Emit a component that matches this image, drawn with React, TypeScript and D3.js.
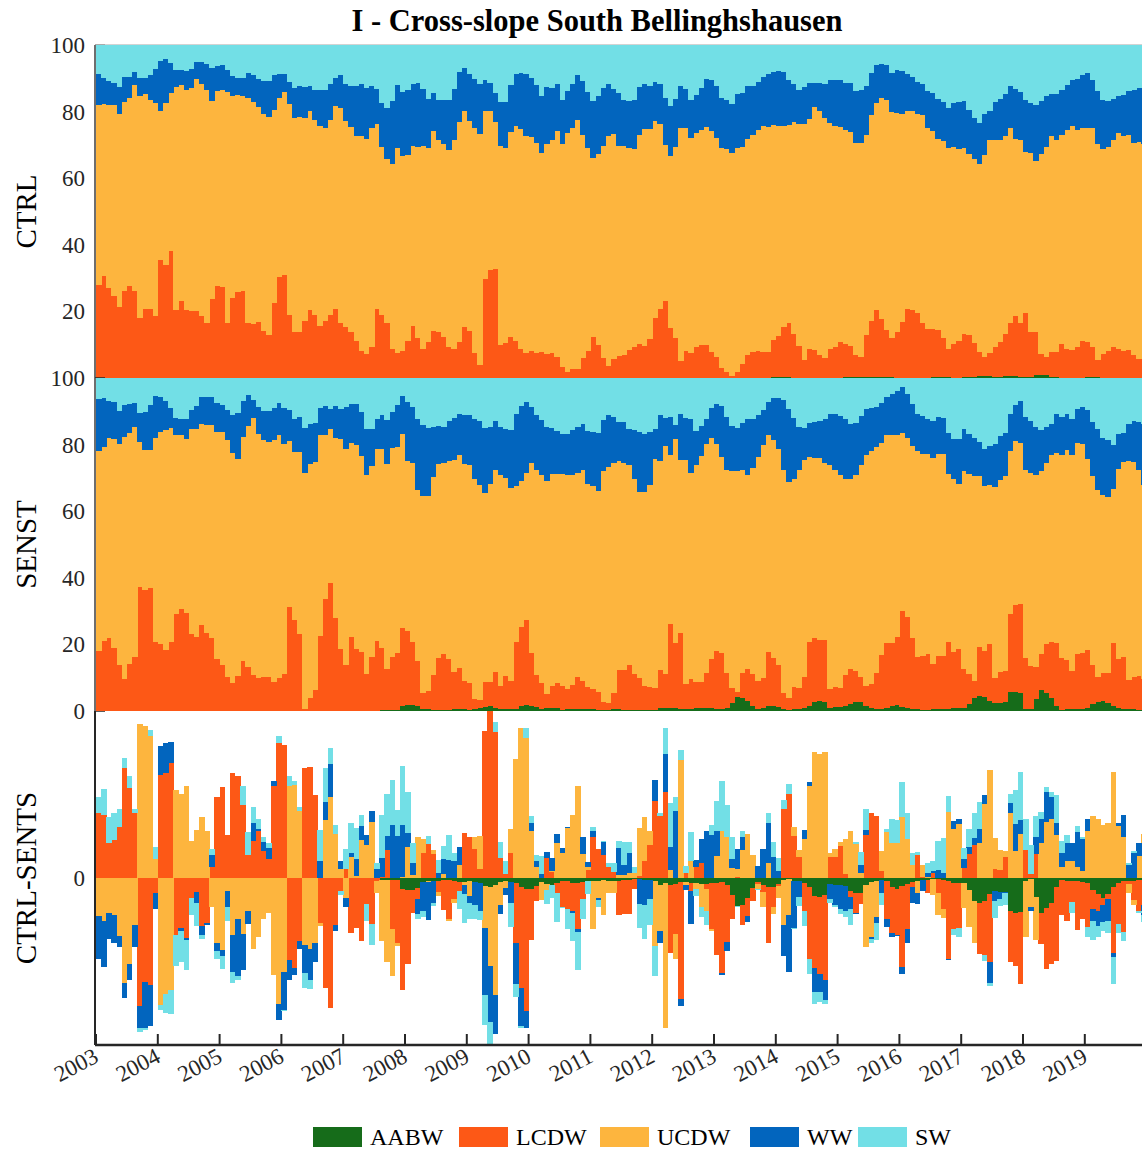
import React, { useEffect, useRef } from "react";
import * as d3 from "d3";

// Water masses, bottom to top of each stack
const waterMasses = ["AABW", "LCDW", "UCDW", "WW", "SW"];
const massColors = ["#166c1a", "#fd5816", "#fdb53e", "#0265be", "#72dfe6"];
const yearTicks = [2003, 2004, 2005, 2006, 2007, 2008, 2009, 2010, 2011, 2012, 2013, 2014, 2015, 2016, 2017, 2018, 2019];
const startYear = 2003;
const endYear = 2020;
const pctTicksTop = [100, 80, 60, 40, 20];
const pctTicksMid = [100, 80, 60, 40, 20, 0];
const diffTicks = [0];
const panelLabels = ["CTRL", "SENST", "CTRL-SENTS"];

// Monthly values (Jan 2003 - Dec 2019), % of cross-slope section.
// "Top" arrays are the cumulative percentage at the top of that layer.
const ctrlAabw = [
  0,0,0,0,0,0,0,0,0,0, 0,0,0,0,0,0,0,0,0,0, 0,0,0,0,0,0,0,0,0,0, 0,0,0,0,0,0,0,0,0,0,
  0,0,0,0,0,0,0,0,0,0, 0,0,0,0,0,0,0,0,0,0, 0,0,0,0,0,0,0,0,0,0, 0,0,0,0,0,0,0,0,0,0,
  0,0,0,0,0,0,0,0,0,0, 0,0,0,0,0,0,0,0,0,0, 0,0,0,0,0,0,0,0,0,0, 0,0,0,0,0,0,0,0,0,0,
  0,0,0,0,0,0,0,0,0,0,
  0.1, 0.2, 0.3, 0.3, 0.2, 0.1,
  0.1, 0.1, 0.1, 0.1, 0.1, 0.1, 0.1, 0.1, 0.1, 0.2,
  0.3, 0.4, 0.4, 0.3, 0.2,
  0.3, 0.3, 0.3, 0.2, 0.1, 0.1,
  0.1, 0.1, 0.1, 0.1, 0.1,
  0.3, 0.4, 0.3, 0.2,
  0.1, 0.1, 0.2, 0.2, 0.3,
  0.6, 0.7, 0.6, 0.4,
  0.3,
  0.5, 0.6, 0.5, 0.3,
  0.2, 0.3,
  0.8, 1.0, 0.8,
  0.3, 0.2, 0.1, 0.1, 0.1, 0.1, 0.1, 0.2, 0.2, 0.2, 0.1, 0.1, 0.1, 0.1, 0.1, 0.1, 0.1, 0.1, 0.1,
];
const ctrlLcdwTop = [
  27.9, 30.6, 27, 24.5, 21.4, 26, 27.6, 26, 18, 20.7, 20.8, 18.6, 35.4, 34, 38, 20.4, 23, 20.3, 20, 20,
  18.6, 16.6, 23.6, 27.7, 27.4, 16.6, 24, 25.8, 26, 16.6, 16.3, 16.8, 14.2, 13, 22.4, 30.2, 31, 19, 13.8, 13.7,
  17, 20.4, 18.8, 15.7, 17, 18.8, 20.7, 16.6, 15.2, 13.8, 11.1,
  8.2, 7.2, 9.4, 20.6, 18.9, 16.4, 8.6, 7.6, 8.1, 11.2, 15.6, 11.9, 8.6, 10.7, 14, 13.9, 12.2, 9.4, 8.7, 10.8,
  15.2, 14.1, 7.4, 3.9, 29.6, 32.4, 32.6, 10, 10.6, 12.2, 11.1, 8.6, 7.4, 8, 7.4, 7.7, 7.1, 7.4, 6.2, 3.2,
  1.9, 2.8, 2.6, 5.9, 8, 12.2, 9.8, 5.9, 3.7, 5.7, 6.7,
  6.9, 8.4, 9.4, 10.1, 9.7, 11.7, 17.9, 20.6, 23.2, 14.9, 12.1, 5.2, 8.1, 7.6, 9.4, 9.9, 9.9, 7.9, 6.4, 3.1,
  1.7, 0.7, 1.7, 4.2, 6.9, 7.7, 8.1, 7.9, 7.9, 11.4, 12.6, 15.4, 16.4, 13.2, 9.7, 5.4, 8.6, 8.4, 6.9, 6.1,
  8.7, 9.4, 10.7, 10.2, 9.6, 6.8, 6.4, 12.9, 17.2, 20.4,
  17.6, 14.4, 12.1, 13.7, 16.7, 20.7, 20.4, 19.4, 16.4, 14.7, 14.6, 14.4, 11.9, 8.7, 10.1, 11.1, 13.2, 12.9, 10.4, 7.7,
  6.4, 7.4, 9.2, 10.9, 13.2, 16.4, 18.6, 16.4, 19.6, 13.9, 13.9, 7.1, 6.4, 7.9, 7.9, 10.2, 8.7, 8.4, 9.2, 11.2,
  10.8, 9.2, 5.4, 7.2, 8.1, 9.2, 8.6, 8.2, 8.4, 6.8, 5.6, 5.6,
];
const ctrlUcdwTop = [
  82.1, 82.4, 82, 81.9, 79.2, 83, 84.2, 88, 84.8, 85.4, 83.6, 82.6, 80.2, 82.6, 85.6, 87.3, 87.9, 86.6, 87.1, 89.7,
  88.2, 86.4, 83.2, 86.2, 86.6, 85.9, 84.7, 84.9, 84.8, 84.1, 82.8, 81.4, 79.2, 78.4, 80.6, 84.1, 85.9, 82.4, 78.2, 78.4,
  78, 80.2, 77.4, 75.6, 75.2, 77.4, 81.6, 81.2, 77.2, 75.4, 72.6,
  72.8, 71.8, 75.1, 76.4, 69.4, 65.9, 64.4, 69.1, 66.6, 66.9, 69.8, 69.4, 69.8, 69.1, 74.1, 71.6, 70.4, 68.6, 71.6, 76.8,
  80.1, 77.3, 75.1, 73.3, 80.1, 80.1, 76.8, 69.7, 69.2, 73.9, 75.6, 74.9, 72.6, 72.4, 70.6, 67.7, 70.4, 71.4, 74.2, 70.4,
  73.7, 75.2, 77.6, 72.9, 69.2, 66, 67.4, 69.8, 72.7, 73.3, 69.8,
  69.6, 69.2, 68.9, 73.1, 74.7, 74.8, 77.1, 76.4, 70.1, 66.8, 69.4, 75.1, 75.2, 72.1, 73.7, 74.4, 75.4, 74.2, 72, 69.2,
  68.8, 67.5, 69.2, 69.4, 71.7, 73.1, 74.6, 75.6, 75.3, 75.9, 75.8, 75.7, 75.9, 76.9, 76.3, 76.2, 77.9, 81.4, 80.2, 78.1,
  76.6, 75.8, 75.3, 74.4, 73.9, 70.7, 70.6, 73.1, 78.9, 82.7,
  84.2, 83.6, 79.9, 79.7, 79.4, 80.2, 80.1, 79.2, 78.9, 75.2, 74.2, 71.7, 71.1, 69.1, 69.4, 68.9, 69.1, 67.4, 65.7, 64.4,
  67.1, 71.4, 71.4, 71.4, 72.6, 75.2, 71.9, 71.4, 67.9, 67.7, 65.1, 67.4, 69.4, 72.7, 71.6, 72.9, 74.4, 75.8, 74.4, 75.2,
  75.2, 75.2, 70.4, 68.7, 69.4, 71.4, 73.7, 72.8, 72.9, 70.7, 70.9, 70.4,
];
const ctrlWwTop = [
  91.3, 90.2, 89.1, 88.7, 87.4, 90.4, 90.4, 92, 90.1, 90.2, 90.9, 92.7, 95.1, 95.8, 94.7, 92.5, 92.5, 92.3, 92.9, 94.9,
  94.9, 94.2, 93.2, 93.8, 93.9, 92.6, 90.6, 90.2, 90.1, 91.6, 90.9, 89.7, 89.3, 89.3, 91.1, 91.4, 91.2, 88.9, 87.2, 87.6,
  87.3, 87.6, 86.4, 86.4, 86.4, 88.4, 90.2, 91.1, 88.3, 87.7, 87.7,
  88.2, 87.2, 87.7, 86.7, 82.6, 81.2, 83.1, 87.9, 85.9, 86.6, 88.4, 88.6, 86.9, 83.9, 85.7, 83.6, 83.4, 83.4, 86.9, 91.9,
  93.2, 91.4, 89.9, 88.3, 89.6, 88.7, 85.6, 82.9, 82.9, 87.9, 91.3, 91.7, 91.3, 90.1, 87.9, 84.6, 87.4, 87.1, 88.3, 83.4,
  86.2, 88.4, 90.9, 89.2, 85.9, 83.2, 84.7, 87.1, 88.3, 86.9, 85.7,
  83.4, 83.1, 83.4, 87.4, 88.4, 87.7, 89, 88.4, 84.2, 81.8, 83.7, 87.8, 86.9, 83.4, 85.1, 87.1, 89.9, 89.6, 87.7, 84.2,
  83.4, 82.4, 85.2, 85.7, 87.6, 87.7, 88.9, 90.4, 91.4, 91.9, 92.1, 92, 89.4, 88.2, 86.6, 87.4, 88.6, 88.6, 88.6, 88.4,
  89.6, 89.6, 89.4, 88.7, 88.6, 86.2, 86.6, 87.7, 91.6, 93.9,
  94.4, 93.9, 91.7, 92.6, 92.1, 91.4, 90.4, 88.9, 88.4, 86.2, 85.7, 83.9, 82.9, 81.1, 82.6, 82.9, 83.1, 80.6, 78.2, 76.7,
  79.4, 80.1, 82.9, 83.7, 85.4, 87.7, 86.7, 85.9, 83.6, 82.7, 82.1, 83.2, 84.6, 85.4, 85.2, 86.4, 87.9, 89.4, 89.9, 91.1,
  91.7, 89.6, 86.2, 83.4, 83.2, 83.9, 84.7, 84.9, 86.1, 86.6, 87.2, 87.4,
];

const senstAabw = [
  0,0,0,0,0,0,0,0,0,0, 0,0,0,0,0,0,0,0,0,0, 0,0,0,0,0,0,0,0,0,0, 0,0,0,0,0,0,0,0,0,0,
  0,0,0,0,0,0,0,0,0,0, 0,0,0,0,0,
  0.3, 0.3, 0.3, 0.3,
  1.6, 1.8, 1.8, 1.5,
  0.6, 0.5, 0.4, 0.4, 0.3, 0.3, 0.5, 0.6, 0.6, 0.4, 0.6, 0.8,
  1.2, 1.4, 1.0,
  0.6, 0.5, 0.6, 0.7,
  1.4, 1.7, 1.6, 1.2,
  0.6, 0.9, 1.0, 0.8,
  0.4, 0.5, 0.7, 0.7, 0.6, 0.5, 0.5, 0.4, 0.3, 0.4, 0.5, 0.5,
  0.3, 0.3, 0.2, 0.2, 0.3, 0.3, 0.4,
  1.0, 0.8, 1.0, 0.9, 0.6,
  0.6, 0.7, 0.8, 0.9, 0.9, 0.8, 0.7, 0.6, 1.0,
  2.5, 4.2, 4.0, 3.0, 1.5,
  0.6, 1.0, 1.5, 1.6, 1.2, 0.6,
  0.4, 0.5, 0.5, 0.8, 1.5,
  2.8, 3.0, 2.6,
  1.0, 1.1, 1.2, 1.4,
  2.2, 2.7, 2.6, 1.4,
  0.8, 0.7, 0.6,
  0.8, 1.6, 1.8, 1.3, 1.0, 0.7,
  0.5, 0.4, 0.4, 0.5, 0.5, 0.6, 0.7, 0.8, 0.8, 1.0,
  2.0, 3.8, 4.4, 4.2, 3.0,
  2.3, 2.4, 2.6,
  5.6, 5.8, 5.4,
  0.6, 0.5,
  3.6, 6.2, 5.3, 4.0, 1.5,
  0.4, 0.5, 0.5, 0.6, 0.7, 1.0,
  2.0, 2.6, 3.1, 2.5, 1.5,
  0.8, 0.6, 0.5, 0.5, 0.4, 0.5,
];
const senstLcdwTop = [
  18.1, 21.1, 21.8, 18.8, 13.8, 9.6, 14.1, 16.2, 37.1, 36.3, 36.8, 20.8, 20, 18.3, 20.8, 29, 30.5, 29.3, 23, 22.1,
  25.8, 23.3, 22, 15.5, 13.8, 10.1, 8.3, 10.5, 15.1, 13.1, 10.8, 9.8, 10.2, 10.1, 8.6, 10, 11.1, 31.3, 27.3, 23.1,
  0.6, 3.8, 6.4, 22.4, 33.5, 38.3, 27.8, 18.6, 13.8, 22.1, 18.6,
  17.6, 11.1, 16.3, 21, 19, 12.5, 16.3, 17.3, 24.8, 24.1, 20.8, 15, 5.5, 6.1, 10.8, 16, 17, 15.6, 11.8, 12.8,
  9, 8.3, 3.6, 3.3, 8.8, 8.8, 11.8, 7.6, 10.5, 9.1, 20.8, 25.1, 27.3, 17.3, 10.8, 8.3, 5, 7.5, 8.5, 7.6,
  6.5, 7.8, 10.3, 9.1, 7.3, 6.6, 5.8, 2.8, 2.5, 5.3, 12.3,
  12.3, 13.8, 11.1, 10, 7.5, 7.1, 6.8, 12.3, 11.1, 26.1, 20.5, 23.3, 8, 9.5, 8.6, 8.6, 11.5, 15.6, 18, 17.3,
  11.3, 6.8, 5.8, 11.3, 12.6, 11.1, 9, 10, 17.6, 15.8, 13.8, 5.3, 4, 7.3, 7, 10.3, 20.8, 21.8, 21.3, 21.3,
  6.5, 7.3, 7, 10.8, 12.5, 12, 10.3, 7.6, 8.1, 11.5,
  16.8, 20.5, 20.3, 22.3, 30, 28.3, 21.8, 16.3, 16.5, 17, 14.1, 16.6, 16.6, 20.8, 17.8, 18.6, 12.5, 11.1, 9, 19.1,
  18, 20, 9.8, 11.8, 12.1, 29, 31.8, 32.2, 15.8, 13.5, 13.1, 17, 20, 20.8, 20.3, 15.8, 15.2, 12, 17, 17.3,
  18.2, 13.8, 10.3, 11.3, 11.3, 20.5, 15.5, 16.3, 9.3, 10.1, 10.5, 9.6,
];
const senstUcdwTop = [
  78, 79.3, 82, 81.8, 80.3, 82.3, 83.5, 85.3, 80.8, 78.3, 78.3, 82, 83.8, 84.3, 85.1, 82.8, 82.8, 81.8, 84.6, 84.6,
  86.3, 86, 86, 83.8, 83.8, 81.3, 77.6, 75.8, 82.3, 85.6, 88, 83.3, 81.3, 80.8, 81.3, 82.8, 80.1, 81, 77.8, 77.8,
  71.6, 74.3, 74.8, 82.8, 83, 84.8, 82.1, 81.8, 78.8, 80.6, 79.8,
  76.5, 70.8, 73.6, 78.6, 78.6, 74.3, 79, 79.3, 83.1, 75.1, 74.6, 66.3, 64.6, 64.6, 70.3, 74.3, 74.6, 75, 75.3, 76.8,
  74.3, 73.8, 69.6, 67.8, 65.6, 68.3, 72.5, 70.8, 70.1, 67.1, 67.5, 69, 71.5, 74.6, 72.3, 71, 69.2, 71.3, 71.3, 71.1,
  70.8, 70.8, 71.6, 72.5, 68.1, 67.5, 66, 72, 73.3, 74.6, 75,
  74.6, 73.8, 69.8, 65.8, 65.8, 68, 75.8, 75, 79.6, 76.8, 81.6, 75.5, 75.5, 71.5, 73.8, 76.6, 80.3, 82.1, 80.3, 76.3,
  72.3, 72.1, 72.1, 72.3, 70.8, 73, 76.3, 80, 82.8, 81.3, 78.8, 72.3, 68.8, 69.6, 72.5, 75.3, 76.3, 76, 76, 74.5,
  73.8, 72.5, 71, 69.8, 69.8, 70.8, 73.8, 77, 78, 79.3,
  80.5, 82.8, 82.8, 83, 83.6, 82, 79.6, 78, 77.3, 77.3, 76, 77.3, 77.1, 71.3, 69.8, 68.3, 72.1, 71.1, 70.6, 70.6,
  67.6, 67.8, 67.3, 69.3, 70.6, 78, 81.1, 80.6, 72.5, 71.5, 70.8, 72, 74.6, 76.8, 77.6, 76.8, 78.3, 76.8, 80.5, 80.3,
  75.6, 70.5, 66.5, 64.8, 64.3, 66.8, 72.8, 74.8, 75.1, 74.8, 72.5, 67.8,
];
const senstWwTop = [
  93.6, 94, 93, 92.8, 90.2, 92, 92.1, 92.6, 89.5, 89.9, 91.8, 94.6, 94.4, 93, 91.1, 88, 87.8, 87.8, 90.4, 91.5,
  94.3, 94.2, 94.2, 92.6, 92, 90.5, 89, 89.6, 93, 95, 93.4, 91.3, 90, 90.1, 91.1, 92.5, 91, 90.5, 87.8, 88.3,
  85.1, 86.3, 86.5, 91, 91.5, 90.8, 91.5, 90.6, 91.3, 92.3, 92.3,
  89.8, 84.6, 84.6, 87.6, 89, 87.5, 89.8, 91.8, 94.6, 92.8, 91.3, 87.8, 86, 85.1, 85.3, 85.5, 85.3, 87.1, 88, 89.3,
  88.8, 89, 87.8, 87, 85.1, 85.3, 87.1, 85.3, 84.8, 84.3, 89.3, 91.5, 92.8, 91.2, 88.8, 87.3, 85.3, 85.1, 84, 83.3,
  83.1, 84.3, 85.3, 86.3, 84, 83.8, 83.6, 87.3, 88.8, 88.3, 86.8,
  86.8, 84.8, 84.3, 83.8, 83.3, 83.8, 84.6, 88.8, 88.1, 88.3, 85.8, 89.3, 88, 87.8, 84.1, 85.6, 87.8, 91, 92.3, 91.6,
  88.3, 85.6, 85.1, 86.6, 87.6, 87.6, 88.8, 90.5, 92.8, 94.1, 94.1, 93.3, 90.8, 88, 85.3, 85.1, 86.5, 86.8, 87, 87.8,
  89.1, 89.3, 88.6, 87.8, 86.3, 86.5, 88.5, 90.8, 91.1, 91.3,
  92.6, 94.3, 95.3, 96, 97.3, 95.3, 92.3, 89.3, 88.5, 87.8, 87.1, 88.3, 88.1, 83.5, 81.8, 81.6, 84.8, 83.3, 82, 80.8,
  78.6, 79.6, 80.3, 82.6, 83.6, 89.1, 91.8, 93, 88.3, 87.1, 85.3, 84.3, 85.3, 86.1, 89.3, 88.3, 89.1, 87.8, 90.8, 91.3,
  90.3, 86.8, 84.6, 82, 81.3, 79.8, 83.3, 83.6, 86.3, 87, 86.8, 86.3,
];

type Row = { [k: string]: number };

function toShares(aabw: number[], lcdwTop: number[], ucdwTop: number[], wwTop: number[]): Row[] {
  const n = Math.min(aabw.length, lcdwTop.length, ucdwTop.length, wwTop.length);
  const rows: Row[] = [];
  for (let i = 0; i < n; i++) {
    rows.push({
      i,
      AABW: aabw[i],
      LCDW: Math.max(0, lcdwTop[i] - aabw[i]),
      UCDW: Math.max(0, ucdwTop[i] - lcdwTop[i]),
      WW: Math.max(0, wwTop[i] - ucdwTop[i]),
      SW: Math.max(0, 100 - wwTop[i]),
    });
  }
  return rows;
}

export default function App() {
  const ref = useRef<SVGSVGElement>(null);

  useEffect(() => {
    const svg = d3.select(ref.current);
    svg.selectAll("*").remove();
    const W = 1142, H = 1151;
    const font = "'Liberation Serif', 'Times New Roman', serif";
    const left = 95;
    const x = d3.scaleLinear().domain([startYear, endYear]).range([96, 1146.6]);
    const mDate = (i: number) => startYear + i / 12;

    const ctrl = toShares(ctrlAabw, ctrlLcdwTop, ctrlUcdwTop, ctrlWwTop);
    const senst = toShares(senstAabw, senstLcdwTop, senstUcdwTop, senstWwTop);
    const n = Math.min(ctrl.length, senst.length);
    const diff: Row[] = [];
    for (let i = 0; i < n; i++) {
      const r: Row = { i };
      waterMasses.forEach((k) => (r[k] = ctrl[i][k] - senst[i][k]));
      diff.push(r);
    }

    const panels = [
      { rows: ctrl, y: d3.scaleLinear().domain([0, 100]).range([378, 45]), ticks: pctTicksTop, label: panelLabels[0] },
      { rows: senst, y: d3.scaleLinear().domain([0, 100]).range([711, 378]), ticks: pctTicksMid, label: panelLabels[1] },
      { rows: diff, y: d3.scaleLinear().domain([-25, 25]).range([1045, 711]), ticks: diffTicks, label: panelLabels[2] },
    ];

    svg.append("rect").attr("width", W).attr("height", H).attr("fill", "#ffffff");

    // title
    svg.append("text")
      .attr("x", 597).attr("y", 31)
      .attr("text-anchor", "middle")
      .attr("font-family", font).attr("font-weight", "bold").attr("font-size", 30.5)
      .attr("fill", "#000")
      .text("I - Cross-slope South Bellinghshausen");

    const stack = d3.stack<Row>().keys(waterMasses).offset(d3.stackOffsetDiverging);

    panels.forEach((p, pi) => {
      const g = svg.append("g");
      const [y0, y1] = p.y.range();
      // ticks under bars
      p.ticks.forEach((t) => {
        g.append("line")
          .attr("x1", left).attr("x2", left + 10)
          .attr("y1", p.y(t)).attr("y2", p.y(t))
          .attr("stroke", "#262626").attr("stroke-width", 1.5);
        g.append("text")
          .attr("x", 85).attr("y", p.y(t))
          .attr("dy", "0.35em")
          .attr("text-anchor", "end")
          .attr("font-family", font).attr("font-size", 23).attr("fill", "#262626")
          .text(String(t));
      });
      if (pi === 0) {
        g.append("line").attr("x1", left).attr("x2", W).attr("y1", y1).attr("y2", y1)
          .attr("stroke", "#c4c4c4").attr("stroke-width", 1.5);
      }
      const layers = stack(p.rows);
      layers.forEach((layer, k) => {
        g.append("g")
          .attr("fill", massColors[k])
          .attr("shape-rendering", "crispEdges")
          .selectAll("rect")
          .data(layer)
          .join("rect")
          .attr("x", (d) => x(mDate(d.data.i)))
          .attr("width", (d) => x(mDate(d.data.i + 1)) - x(mDate(d.data.i)) + 0.4)
          .attr("y", (d) => p.y(Math.max(d[0], d[1])))
          .attr("height", (d) => Math.abs(p.y(d[0]) - p.y(d[1])));
      });
      // left axis line
      g.append("line")
        .attr("x1", left).attr("x2", left)
        .attr("y1", Math.min(y0, y1)).attr("y2", Math.max(y0, y1))
        .attr("stroke", pi === 2 ? "#262626" : "#6e6e6e").attr("stroke-width", 2);
      // y label
      const cy = (y0 + y1) / 2;
      g.append("text")
        .attr("transform", `translate(36,${cy}) rotate(-90)`)
        .attr("text-anchor", "middle")
        .attr("font-family", font).attr("font-size", 29).attr("fill", "#000")
        .text(p.label);
    });

    // bottom axis
    const bottom = 1045;
    svg.append("line").attr("x1", left).attr("x2", W).attr("y1", bottom).attr("y2", bottom)
      .attr("stroke", "#262626").attr("stroke-width", 2.5);
    yearTicks.forEach((yr) => {
      const xx = x(yr);
      svg.append("line").attr("x1", xx).attr("x2", xx).attr("y1", bottom).attr("y2", bottom - 11)
        .attr("stroke", "#262626").attr("stroke-width", 2);
      svg.append("text")
        .attr("transform", `translate(${xx + 4},1061) rotate(-28)`)
        .attr("text-anchor", "end")
        .attr("font-family", font).attr("font-size", 23).attr("fill", "#262626")
        .text(String(yr));
    });

    // legend
    const legX = [313, 459, 600, 750, 858];
    waterMasses.forEach((m, k) => {
      svg.append("rect").attr("x", legX[k]).attr("y", 1127).attr("width", 49).attr("height", 20)
        .attr("fill", massColors[k]);
      svg.append("text").attr("x", legX[k] + 57).attr("y", 1145)
        .attr("font-family", font).attr("font-size", 24).attr("fill", "#000")
        .text(m);
    });
  }, []);

  return (
    <svg
      ref={ref}
      width={1142}
      height={1151}
      style={{ position: "absolute", left: 0, top: 0, display: "block", overflow: "hidden" }}
    />
  );
}
